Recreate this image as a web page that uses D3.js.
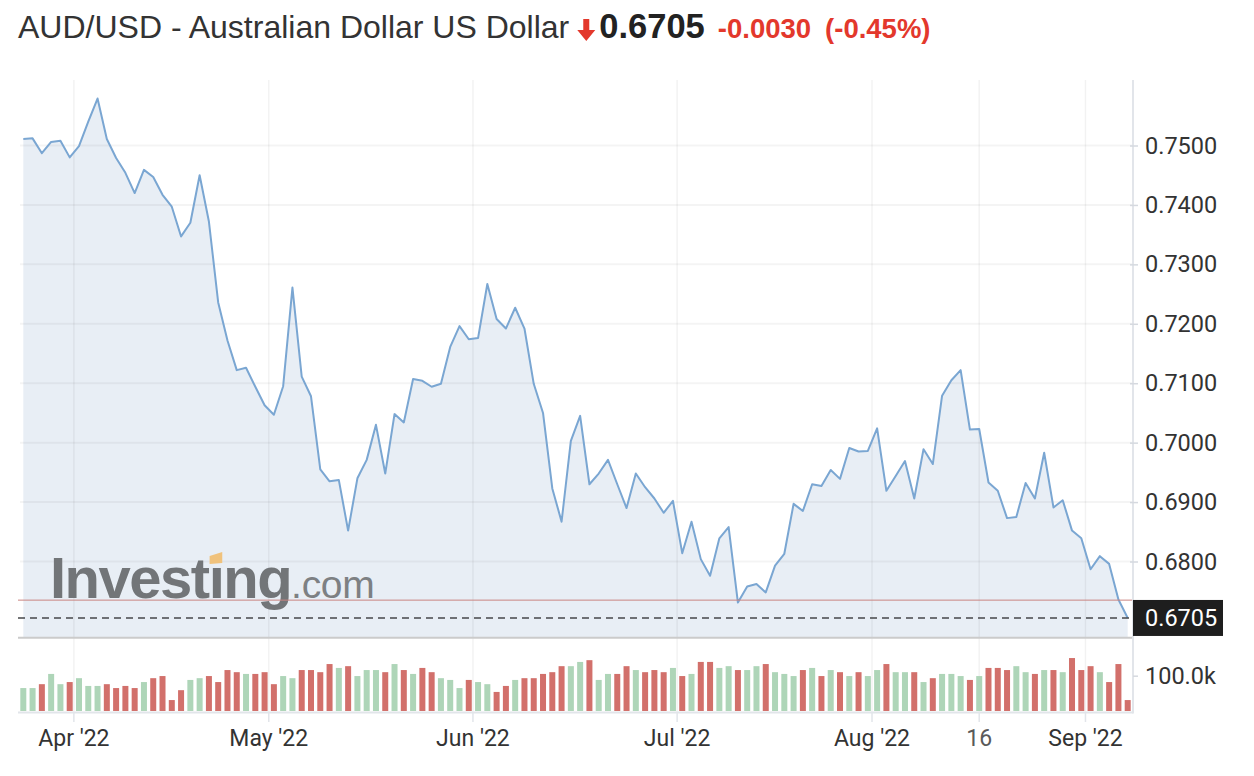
<!DOCTYPE html>
<html><head><meta charset="utf-8">
<script src="https://cdn.jsdelivr.net/npm/d3@7"></script>
<style>body{margin:0;background:#fff;} svg{display:block;}</style>
</head><body><svg id="c" width="1254" height="776"></svg>
<script>
// ---------------- DATA ----------------
const titleText = "AUD/USD - Australian Dollar US Dollar";
const lastPrice = 0.6705;
const prevClose = 0.6735;
const changeText = "-0.0030";
const changePctText = "(-0.45%)";
const firstDate = "2022-03-24";
// daily closes (trading days)
const prices = [
 0.7511,0.7512,0.7487,0.7506,0.7508,0.7480,0.7499,0.7540,0.7579,0.7511,
 0.7479,0.7454,0.7420,0.7459,0.7447,0.7417,0.7397,0.7347,0.7370,0.7450,
 0.7372,0.7236,0.7172,0.7122,0.7126,0.7094,0.7063,0.7047,0.7095,0.7261,
 0.7111,0.7078,0.6955,0.6935,0.6937,0.6852,0.6940,0.6971,0.7030,0.6948,
 0.7048,0.7034,0.7107,0.7104,0.7094,0.7099,0.7161,0.7196,0.7174,0.7176,
 0.7267,0.7208,0.7192,0.7227,0.7192,0.7099,0.7050,0.6923,0.6867,0.7003,
 0.7045,0.6930,0.6948,0.6971,0.6930,0.6890,0.6948,0.6925,0.6906,0.6882,
 0.6902,0.6814,0.6867,0.6804,0.6776,0.6839,0.6858,0.6731,0.6758,0.6762,
 0.6748,0.6793,0.6813,0.6897,0.6885,0.6930,0.6927,0.6954,0.6939,0.6991,
 0.6985,0.6986,0.7024,0.6919,0.6944,0.6969,0.6906,0.6989,0.6964,0.7079,
 0.7105,0.7122,0.7022,0.7023,0.6933,0.6919,0.6873,0.6875,0.6932,0.6906,
 0.6983,0.6891,0.6903,0.6852,0.6839,0.6787,0.6809,0.6796,0.6736,0.6705
];
// volume, thousands
const volumes = [
  65, 65, 76,105, 76, 82, 93, 71, 71, 76,
  65, 71, 65, 82, 93, 99, 31, 59, 88, 93,
  99, 82,116,110,105,105,110, 76, 99, 93,
 116,116,110,133,122,127, 99,116,116,110,
 133,116,105,122,110, 93, 88, 65, 88, 82,
  76, 54, 71, 88, 93, 93,105,110,127,127,
 139,144, 88,105,105,127,116,110,116,110,
 122, 99,105,139,139,122,127,116,116,127,
 133,110,105, 99,116,122, 99,116,110, 99,
 110, 99,116,133,110,110,110, 82, 93,105,
 105, 99, 88, 99,122,122,116,127,110,105,
 116,116,110,150,116,127,110, 82,133, 31
];
const priceTicks = [0.75,0.74,0.73,0.72,0.71,0.70,0.69,0.68];
const volumeTicks = [100];
const tickLabels = ["Apr '22","May '22","Jun '22","Jul '22","Aug '22","16","Sep '22"];
const tickDates  = ["2022-04-01","2022-05-01","2022-06-01","2022-07-01","2022-08-01","2022-08-16","2022-09-01"];
const tickKinds  = ["month","month","month","month","month","day","month"];

// ---------------- LAYOUT ----------------
const svg = d3.select("#c");
const L = 18, R = 1133, paneTop = 80, priceBottom = 637.7, volBottom = 711, axisBottom = 712.5;
const parse = d3.utcParse("%Y-%m-%d");
const start = parse(firstDate);
const dates = d3.utcDay.range(start, d3.utcDay.offset(start, 220))
  .filter(d => d.getUTCDay() % 6 !== 0).slice(0, prices.length);

const x = d3.scaleLinear().domain([0, prices.length - 1]).range([23.3, 1127.7]);
const y = d3.scaleLinear().domain([0.68, 0.75]).range([561.5, 145.5]);
const yv = d3.scaleLinear().domain([0, 100]).range([volBottom, 675.7]);

function tickPos(ds, kind) {
  const d = parse(ds);
  const i = dates.findIndex(t => t >= d);
  return x(kind === "month" ? i - 0.55 : i);
}
const tickX = tickDates.map((d, k) => tickPos(d, tickKinds[k]));

// area + line
const area = d3.area().x((d, i) => x(i)).y0(priceBottom).y1(d => y(d));
const line = d3.line().x((d, i) => x(i)).y(d => y(d));
svg.append("path").datum(prices).attr("d", area).attr("fill", "#e8eef5");

// grid
svg.append("g").selectAll("line").data(priceTicks).join("line")
  .attr("x1", 20).attr("x2", R).attr("y1", d => y(d)).attr("y2", d => y(d))
  .attr("stroke", "rgba(0,0,0,0.045)").attr("stroke-width", 2);
svg.append("g").selectAll("line").data(tickX).join("line")
  .attr("x1", d => d).attr("x2", d => d).attr("y1", paneTop).attr("y2", axisBottom)
  .attr("stroke", "rgba(0,0,0,0.05)").attr("stroke-width", 1.5);
svg.append("g").selectAll("line").data(tickX).join("line")
  .attr("x1", d => d).attr("x2", d => d).attr("y1", axisBottom).attr("y2", 722)
  .attr("stroke", "#e2e5ea").attr("stroke-width", 1.5);

// watermark
const wm = svg.append("text").attr("x", 50).attr("y", 598)
  .attr("font-family", "Liberation Sans, Arial, sans-serif");
wm.append("tspan").attr("font-size", 58).attr("font-weight", "bold")
  .attr("letter-spacing", -1.5).attr("fill", "#727578").text("Invest\u0131ng");
wm.append("tspan").attr("font-size", 39).attr("fill", "#7d8083").attr("letter-spacing", -0.3).text(".com");
{
  const node = wm.node();
  const ext = node.getExtentOfChar(6);
  svg.append("path")
    .attr("d", `M${ext.x + 1},${556} L${ext.x + ext.width - 1},${552} L${ext.x + ext.width - 1},${563} L${ext.x + 1},${564} Z`)
    .attr("fill", "#f0c27c");
}

// price line
svg.append("path").datum(prices).attr("d", line).attr("fill", "none")
  .attr("stroke", "#7aa6d2").attr("stroke-width", 2).attr("stroke-linejoin", "round");

// prev close & last price lines
svg.append("line").attr("x1", L).attr("x2", R).attr("y1", y(prevClose)).attr("y2", y(prevClose))
  .attr("stroke", "#c98482").attr("stroke-width", 1);
svg.append("line").attr("x1", L).attr("x2", 1130).attr("y1", y(lastPrice)).attr("y2", y(lastPrice))
  .attr("stroke", "#45474a").attr("stroke-width", 1.6).attr("stroke-dasharray", "7,5");

// pane separator
svg.append("line").attr("x1", L).attr("x2", R).attr("y1", priceBottom).attr("y2", priceBottom)
  .attr("stroke", "#cbcbcb").attr("stroke-width", 2);

// volume bars
svg.append("g").selectAll("rect").data(volumes).join("rect")
  .attr("x", (d, i) => x(i) - 3).attr("width", 6)
  .attr("y", d => yv(d)).attr("height", d => volBottom - yv(d))
  .attr("fill", (d, i) => (i === 0 || prices[i] >= prices[i - 1]) ? "#aed5b8" : "#d2706b");

// axes lines
svg.append("line").attr("x1", L).attr("x2", R).attr("y1", axisBottom).attr("y2", axisBottom)
  .attr("stroke", "#e2e5ea").attr("stroke-width", 2);
svg.append("line").attr("x1", R).attr("x2", R).attr("y1", paneTop).attr("y2", axisBottom + 1)
  .attr("stroke", "#e2e5ea").attr("stroke-width", 2);

// right price axis
const yAxis = d3.axisRight(y).tickValues(priceTicks).tickFormat(d3.format(".4f")).tickSize(5).tickPadding(7);
const ga = svg.append("g").attr("transform", `translate(${R},0)`).call(yAxis);
ga.select(".domain").remove();
ga.selectAll(".tick line").attr("stroke", "#d5d9df").attr("stroke-width", 1.5).attr("x1", -3);
ga.selectAll(".tick text").attr("font-family", "Roboto, sans-serif").attr("font-size", 23.5).attr("fill", "#333");

// volume axis
const vAxis = d3.axisRight(yv).tickValues(volumeTicks).tickFormat(d => d3.format(".1f")(d) + "k").tickSize(5).tickPadding(7);
const gv = svg.append("g").attr("transform", `translate(${R},0)`).call(vAxis);
gv.select(".domain").remove();
gv.selectAll(".tick line").attr("stroke", "#d5d9df").attr("stroke-width", 1.5);
gv.selectAll(".tick text").attr("font-family", "Roboto, sans-serif").attr("font-size", 23.5).attr("fill", "#333");

// last price label
svg.append("rect").attr("x", R).attr("y", y(lastPrice) - 18).attr("width", 90).attr("height", 36).attr("fill", "#1e1e1e");
svg.append("text").attr("x", 1145).attr("y", y(lastPrice)).attr("dy", "0.35em")
  .attr("font-family", "Roboto, sans-serif").attr("font-size", 23.5).attr("fill", "#fff")
  .text(d3.format(".4f")(lastPrice));

// bottom labels
svg.append("g").selectAll("text").data(tickLabels).join("text")
  .attr("x", (d, i) => tickX[i]).attr("y", 746).attr("text-anchor", "middle")
  .attr("font-family", "Roboto, sans-serif").attr("font-size", 23)
  .attr("fill", (d, i) => tickKinds[i] === "day" ? "#5a5a5a" : "#333").text(d => d);

// title
const t1 = svg.append("text").attr("x", 18).attr("y", 38)
  .attr("font-family", "Liberation Sans, Arial, sans-serif").attr("font-size", 32).attr("fill", "#333").text(titleText);
let cx = 18 + t1.node().getComputedTextLength() + 8;
svg.append("path")
  .attr("d", `M${cx + 6},19 h6 v11 h6 l-9,11 l-9,-11 h6 Z`).attr("fill", "#e3382c");
cx += 22;
const t2 = svg.append("text").attr("x", cx).attr("y", 38)
  .attr("font-family", "Liberation Sans, Arial, sans-serif").attr("font-size", 34.5).attr("font-weight", "bold")
  .attr("fill", "#222").text(d3.format(".4f")(lastPrice));
cx += t2.node().getComputedTextLength() + 13;
const t3 = svg.append("text").attr("x", cx).attr("y", 38)
  .attr("font-family", "Liberation Sans, Arial, sans-serif").attr("font-size", 27.5).attr("font-weight", "bold")
  .attr("fill", "#e3382c").text(changeText);
cx += t3.node().getComputedTextLength() + 14;
svg.append("text").attr("x", cx).attr("y", 38)
  .attr("font-family", "Liberation Sans, Arial, sans-serif").attr("font-size", 27.5).attr("font-weight", "bold")
  .attr("fill", "#e3382c").text(changePctText);
</script>
</body></html>
